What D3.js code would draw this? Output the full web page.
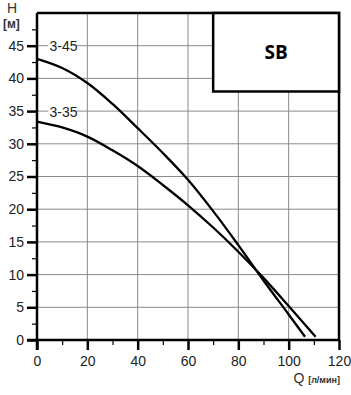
<!DOCTYPE html>
<html lang="ru">
<head>
    <meta charset="UTF-8" />
    <title>SB pump curves</title>
    <script src="https://d3js.org/d3.v7.min.js"></script>
    <style>
        body { margin: 0; background: #fff; font-family: "Liberation Sans", Arial, sans-serif; }
        .grid line { stroke: #8a8a8a; stroke-width: 1; }
        .axis path, .axis line { stroke: #000; stroke-width: 2.5; }
        .minor line { stroke: #000; stroke-width: 1.2; }
        .axis text { font-size: 14px; fill: #222; }
        .curve { fill: none; stroke: #000; stroke-width: 2.3; }
        .label { font-size: 14px; fill: #222; }
    </style>
</head>
<body>
    <div id="chart"></div>
    <script>
        // data
        var xTicks = [0, 20, 40, 60, 80, 100, 120];
        var yTicks = [0, 5, 10, 15, 20, 25, 30, 35, 40, 45];
        var seriesNames = ["3-45", "3-35"];
        var q345 = [0, 10, 20, 30, 40, 50, 60, 70, 80, 90, 100, 106.5];
        var h345 = [43, 41.6, 39.3, 36.1, 32.4, 28.6, 24.5, 19.7, 14.5, 9.1, 3.9, 0.5];
        var q335 = [0, 10, 20, 30, 40, 50, 60, 70, 80, 90, 100, 110.7];
        var h335 = [33.4, 32.5, 31.1, 29.0, 26.6, 23.7, 20.6, 17.2, 13.5, 9.5, 5.2, 0.5];
        var boxQ = 70, boxH = 38;

        var w = 351, h = 395;
        var pLeft = 37, pRight = 339, pTop = 13, pBottom = 340;

        var x = d3.scaleLinear().domain([0, 120]).range([pLeft, pRight]);
        var y = d3.scaleLinear().domain([0, 50]).range([pBottom, pTop]);

        var svg = d3.select("#chart").append("svg")
            .attr("width", w).attr("height", h);

        // grid
        svg.append("g").attr("class", "grid")
            .selectAll("line").data(xTicks.slice(1, -1)).enter().append("line")
            .attr("x1", function(d) { return x(d); }).attr("x2", function(d) { return x(d); })
            .attr("y1", pTop).attr("y2", pBottom);
        svg.append("g").attr("class", "grid")
            .selectAll("line").data(yTicks.slice(1)).enter().append("line")
            .attr("x1", pLeft).attr("x2", pRight)
            .attr("y1", function(d) { return y(d); }).attr("y2", function(d) { return y(d); });

        // minor ticks
        svg.append("g").attr("class", "minor")
            .attr("transform", "translate(0," + pBottom + ")")
            .call(d3.axisBottom(x).tickValues(d3.range(10, 120, 20)).tickSize(5).tickFormat(""))
            .select(".domain").remove();
        svg.append("g").attr("class", "minor")
            .attr("transform", "translate(" + pLeft + ",0)")
            .call(d3.axisLeft(y).tickValues(d3.range(2.5, 50, 5)).tickSize(5).tickFormat(""))
            .select(".domain").remove();

        // axes
        var xAxis = svg.append("g").attr("class", "axis")
            .attr("transform", "translate(0," + pBottom + ")")
            .call(d3.axisBottom(x).tickValues(xTicks).tickSize(10).tickSizeOuter(0).tickPadding(6));
        var yAxis = svg.append("g").attr("class", "axis")
            .attr("transform", "translate(" + pLeft + ",0)")
            .call(d3.axisLeft(y).tickValues(yTicks).tickSize(10).tickSizeOuter(0).tickPadding(3));
        yAxis.select(".domain").attr("d", "M0," + (pBottom + 10) + "V" + pTop);
        xAxis.select(".domain").attr("d", "M" + (pLeft - 10) + ",0H" + pRight);

        // frame top and right
        svg.append("path").attr("fill", "none").attr("stroke", "#000").attr("stroke-width", 2.5)
            .attr("d", "M" + pLeft + "," + pTop + "H" + pRight + "V" + pBottom);

        // curves
        var line = d3.line()
            .x(function(d) { return x(d[0]); })
            .y(function(d) { return y(d[1]); })
            .curve(d3.curveCatmullRom.alpha(0.5));
        svg.append("path").attr("class", "curve")
            .datum(d3.zip(q345, h345)).attr("d", line);
        svg.append("path").attr("class", "curve")
            .datum(d3.zip(q335, h335)).attr("d", line);

        // curve labels
        [[seriesNames[0], 45], [seriesNames[1], 35]].forEach(function(s) {
            var g = svg.append("g");
            g.append("rect").attr("x", x(4.5)).attr("y", y(s[1]) - 7)
                .attr("width", 28).attr("height", 14).attr("fill", "#fff");
            g.append("text").attr("class", "label")
                .attr("x", x(5)).attr("y", y(s[1]) + 5.5).text(s[0]);
        });

        // SB box
        svg.append("rect")
            .attr("x", x(boxQ)).attr("y", pTop)
            .attr("width", pRight - x(boxQ)).attr("height", y(boxH) - pTop)
            .attr("fill", "#fff").attr("stroke", "#000").attr("stroke-width", 2.5);
        svg.append("text")
            .attr("x", (x(boxQ) + pRight) / 2).attr("y", (pTop + y(boxH)) / 2 + 7)
            .attr("text-anchor", "middle")
            .style("font-family", "'Open Sans', sans-serif").style("font-weight", "bold")
            .style("font-size", "19px").text("SB");

        // axis titles
        svg.append("text").attr("x", 7).attr("y", 13)
            .style("font-size", "14px").attr("fill", "#333").text("H");
        svg.append("text").attr("x", 3).attr("y", 28)
            .style("font-size", "12px").style("font-weight", "bold").attr("fill", "#333").text("[м]");
        var qt = svg.append("text").attr("x", 340).attr("y", 383)
            .attr("text-anchor", "end").attr("fill", "#333");
        qt.append("tspan").style("font-size", "14px").text("Q ");
        qt.append("tspan").style("font-size", "9px").style("font-weight", "bold").text("[л/мин]");
    </script>
</body>
</html>
